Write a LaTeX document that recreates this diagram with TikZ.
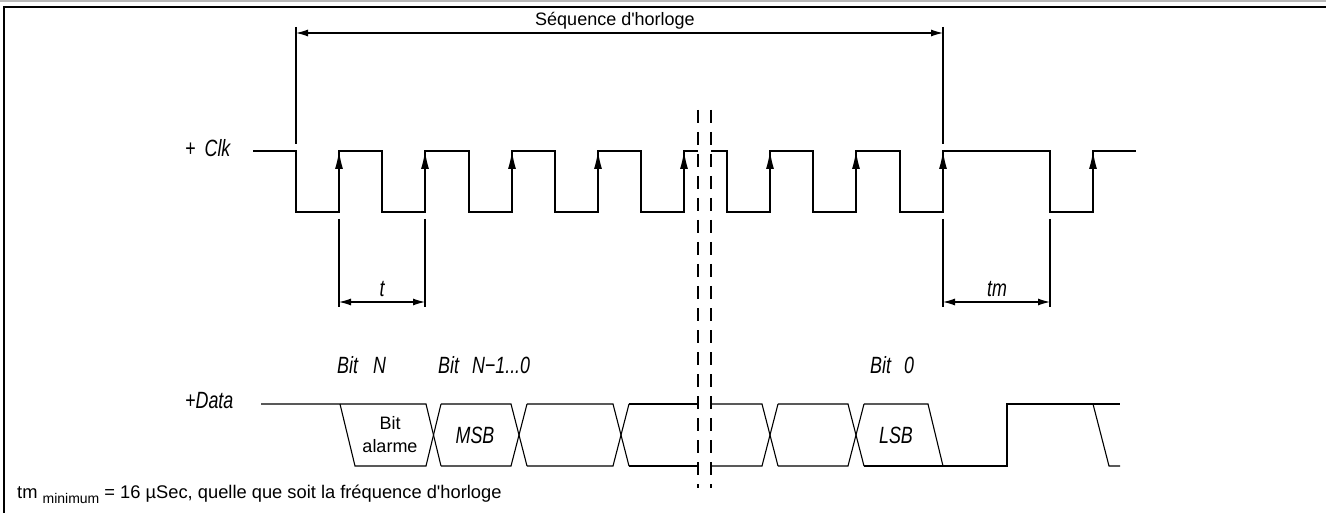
\documentclass[tikz,border=0pt]{standalone}
\usepackage{fontspec}
\setmainfont{Liberation Sans}
\newfontfamily\isofont[FakeStretch=0.76]{Liberation Sans}
\usetikzlibrary{arrows.meta}
\begin{document}
\begin{tikzpicture}[x=1pt,y=-1pt,
  wave/.style={line width=1.3pt, line join=miter},
  thinline/.style={line width=1.1pt},
  dimarrow/.style={line width=1.1pt,{Latex[length=12pt,width=7pt]}-{Latex[length=12pt,width=7pt]}},
  edgearrow/.style={-{Latex[length=18pt,width=8pt]}, line width=1.3pt},
  ital/.style={font=\isofont\itshape\fontsize{23.5}{27}\selectfont, inner sep=0pt},
  sans/.style={font=\fontsize{18}{21}\selectfont, inner sep=0pt},
  brk/.style={line width=1.1pt, dash pattern=on 13pt off 9pt}]
\useasboundingbox (0,0) rectangle (1326,513);
% frame
\draw[gray!55, line width=1.5pt] (0,1) -- (1326,1);
\draw[line width=1.3pt] (4,513) -- (4,7) -- (1326,7);

% clock waveform
\draw[wave] (253,151) -- (296,151) -- (296,212) -- (339,212) -- (339,151) -- (382,151) -- (382,212)
  -- (425,212) -- (425,151) -- (469,151) -- (469,212) -- (512,212) -- (512,151) -- (555,151)
  -- (555,212) -- (598,212) -- (598,151) -- (641,151) -- (641,212) -- (684,212) -- (684,151) -- (698,151);
\draw[wave] (711,151) -- (727,151) -- (727,212) -- (770,212) -- (770,151) -- (813,151) -- (813,212)
  -- (856,212) -- (856,151) -- (900,151) -- (900,212) -- (943,212) -- (943,151) -- (1050,151)
  -- (1050,212) -- (1093,212) -- (1093,151) -- (1136,151);
\foreach \x in {339,425,512,598,684,770,856,943,1093}
  \draw[edgearrow] (\x,212) -- (\x,151);

% break lines
\draw[brk] (698,110) -- (698,488);
\draw[brk] (711,110) -- (711,488);

% dimension: sequence
\coordinate (sA) at (296,33);
\coordinate (sB) at (943,33);
\draw[thinline] (296,27) -- (296,144);
\draw[thinline] (943,27) -- (943,144);
\draw[dimarrow] (sA) -- (sB);
\node[sans, anchor=base] (seq) at (615,26) {Séquence d\textquotesingle horloge};

% dimension: t
\coordinate (tA) at (339,302);
\coordinate (tB) at (425,302);
\draw[thinline] (339,219) -- (339,307);
\draw[thinline] (425,219) -- (425,307);
\draw[dimarrow] (tA) -- (tB);
\node[ital, anchor=base] (tlab) at (382,297) {t};

% dimension: tm
\coordinate (mA) at (943,302);
\coordinate (mB) at (1050,302);
\draw[thinline] (943,219) -- (943,307);
\draw[thinline] (1050,219) -- (1050,307);
\draw[dimarrow] (mA) -- (mB);
\node[ital, anchor=base] (tmlab) at (997,297) {tm};

% data waveform
\draw[thinline] (261,404) -- (426,404) -- (441,466);
\draw[thinline] (340,404) -- (355,466) -- (426,466) -- (441,404);
\draw[thinline] (441,404) -- (511,404) -- (527,466);
\draw[thinline] (441,466) -- (511,466) -- (527,404);
\draw[thinline] (527,404) -- (613,404) -- (629,466);
\draw[thinline] (527,466) -- (613,466) -- (629,404);
\draw[thinline] (629,404) -- (698,404);
\draw[thinline] (629,466) -- (698,466);
\draw[thinline] (711,404) -- (762,404) -- (778,466);
\draw[thinline] (711,466) -- (762,466) -- (778,404);
\draw[thinline] (778,404) -- (848,404) -- (864,466);
\draw[thinline] (778,466) -- (848,466) -- (864,404);
\draw[thinline] (864,404) -- (928,404) -- (943,466);
\draw[thinline] (864,466) -- (1007,466) -- (1007,404) -- (1120,404);
\draw[thinline] (1093,404) -- (1109,466) -- (1120,466);

% labels
\node[ital, anchor=base west] (clk) at (185,157) {+\hspace{9pt}Clk};
\node[ital, anchor=base west] (data) at (185,408) {+Data};
\node[ital, anchor=base west] (bitn) at (337,373) {Bit\hspace{15pt}N};
\node[ital, anchor=base west] (bitn1) at (438,373) {Bit\hspace{13pt}N−1...0};
\node[ital, anchor=base west] (bit0) at (870,373) {Bit\hspace{13pt}0};
\node[sans, anchor=base] (bita) at (390,429) {Bit};
\node[sans, anchor=base] (bitb) at (390,452) {alarme};
\node[ital, anchor=base] (msb) at (475,443) {MSB};
\node[ital, anchor=base] (lsb) at (896,443) {LSB};
\node[sans, anchor=base west, font=\fontsize{18.3}{22}\selectfont] (note) at (17,498)
  {tm \raisebox{-5pt}{\fontsize{14}{16}\selectfont minimum} = 16 µSec, quelle que soit la fréquence d\textquotesingle horloge};
\end{tikzpicture}
\end{document}
